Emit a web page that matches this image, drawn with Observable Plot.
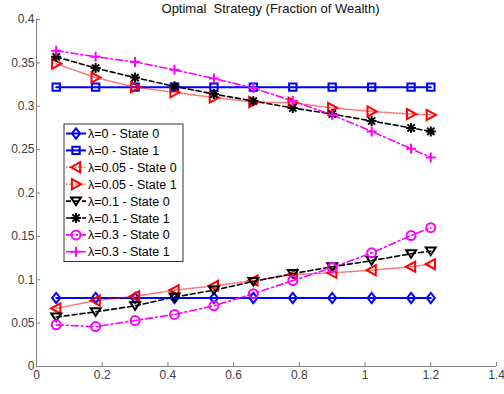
<!DOCTYPE html>
<html><head><meta charset="utf-8">
<script src="https://cdn.jsdelivr.net/npm/d3@7"></script>
<script src="https://cdn.jsdelivr.net/npm/@observablehq/plot@0.6"></script>
<style>
body{margin:0;background:#fff;}
#chart svg text{white-space:pre;}
</style></head><body><div id="chart"></div>
<script>
// ---- data ----
const title = "Optimal  Strategy (Fraction of Wealth)";
const xValues = [0.06, 0.18, 0.30, 0.42, 0.54, 0.66, 0.78, 0.90, 1.02, 1.14, 1.20];
const lam0_state0   = [0.079, 0.079, 0.079, 0.079, 0.079, 0.079, 0.079, 0.079, 0.079, 0.079, 0.079];
const lam0_state1   = [0.322, 0.322, 0.322, 0.322, 0.322, 0.322, 0.322, 0.322, 0.322, 0.322, 0.322];
const lam005_state0 = [0.067, 0.076, 0.081, 0.088, 0.093, 0.099, 0.106, 0.108, 0.111, 0.115, 0.118];
const lam005_state1 = [0.349, 0.333, 0.322, 0.316, 0.310, 0.305, 0.304, 0.298, 0.294, 0.291, 0.290];
const lam01_state0  = [0.057, 0.063, 0.070, 0.080, 0.088, 0.098, 0.107, 0.115, 0.122, 0.130, 0.133];
const lam01_state1  = [0.357, 0.344, 0.333, 0.323, 0.314, 0.306, 0.298, 0.291, 0.283, 0.275, 0.271];
const lam03_state0  = [0.048, 0.046, 0.053, 0.060, 0.070, 0.084, 0.099, 0.114, 0.131, 0.151, 0.160];
const lam03_state1  = [0.364, 0.357, 0.351, 0.342, 0.332, 0.321, 0.306, 0.290, 0.271, 0.251, 0.241];
const seriesNames = ["λ=0 - State 0", "λ=0 - State 1", "λ=0.05 - State 0", "λ=0.05 - State 1",
                     "λ=0.1 - State 0", "λ=0.1 - State 1", "λ=0.3 - State 0", "λ=0.3 - State 1"];
const seriesValues = [lam0_state0, lam0_state1, lam005_state0, lam005_state1,
                      lam01_state0, lam01_state1, lam03_state0, lam03_state1];
const xTicks = [0, 0.2, 0.4, 0.6, 0.8, 1, 1.2, 1.4];
const xTickLabels = ["0", "0.2", "0.4", "0.6", "0.8", "1", "1.2", "1.4"];
const yTicks = [0, 0.05, 0.1, 0.15, 0.2, 0.25, 0.3, 0.35, 0.4];
const yTickLabels = ["0", "0.05", "0.1", "0.15", "0.2", "0.25", "0.3", "0.35", "0.4"];

// ---- marker symbols (size -> r) ----
const sym = fn => ({draw(c, size){ const r = Math.sqrt(size / Math.PI); fn(c, r); }});
const symbols = {
  diamond: sym((c,r)=>{c.moveTo(0,-r*1.3);c.lineTo(r,0);c.lineTo(0,r*1.3);c.lineTo(-r,0);c.closePath();}),
  square: sym((c,r)=>{c.rect(-r,-r,2*r,2*r);}),
  triLeft: sym((c,r)=>{c.moveTo(-r*1.1,0);c.lineTo(r*0.9,-r*1.1);c.lineTo(r*0.9,r*1.1);c.closePath();}),
  triRight: sym((c,r)=>{c.moveTo(r*1.1,0);c.lineTo(-r*0.9,-r*1.1);c.lineTo(-r*0.9,r*1.1);c.closePath();}),
  triDown: sym((c,r)=>{c.moveTo(0,r*0.9);c.lineTo(-r*1.1,-r*0.8);c.lineTo(r*1.1,-r*0.8);c.closePath();}),
  star: sym((c,r)=>{c.moveTo(-r,0);c.lineTo(r,0);c.moveTo(0,-r);c.lineTo(0,r);
        const d=r*0.72;c.moveTo(-d,-d);c.lineTo(d,d);c.moveTo(-d,d);c.lineTo(d,-d);}),
  circle: sym((c,r)=>{c.moveTo(r,0);c.arc(0,0,r,0,2*Math.PI);}),
  plus: sym((c,r)=>{c.moveTo(-r,0);c.lineTo(r,0);c.moveTo(0,-r);c.lineTo(0,r);})
};
const styles = [
  {color:"#0000ff", dash:null, width:2, symbol:"diamond", r:4, lineOpacity:1},
  {color:"#0000ff", dash:null, width:2, symbol:"square", r:3.7, lineOpacity:1},
  {color:"#ff0000", dash:"1.5,1.5", width:1.6, symbol:"triLeft", r:4.6, lineOpacity:0.55},
  {color:"#ff0000", dash:"1.5,1.5", width:1.6, symbol:"triRight", r:4.6, lineOpacity:0.55},
  {color:"#000000", dash:"5,3", width:1.6, symbol:"triDown", r:4.5, lineOpacity:1},
  {color:"#000000", dash:"5,3", width:1.6, symbol:"star", r:5, lineOpacity:1},
  {color:"#ff00ff", dash:"7,3,2,3", width:1.6, symbol:"circle", r:4.5, lineOpacity:1},
  {color:"#ff00ff", dash:"7,3,2,3", width:1.6, symbol:"plus", r:5, lineOpacity:1}
];

const rows = seriesNames.map((name, i) => xValues.map((x, j) => ({x, y: seriesValues[i][j], name})));

const font = "'Liberation Sans', Arial, Helvetica, sans-serif";
const axisColor = "#808080";
const labelColor = "#404040";

const marks = [];
marks.push(Plot.ruleY([0], {stroke: axisColor, strokeWidth: 1}));
marks.push(Plot.ruleX([0], {stroke: axisColor, strokeWidth: 1}));
marks.push(Plot.axisX(xTicks, {tickSize: -4, tickPadding: 8, stroke: axisColor, fill: labelColor,
  tickFormat: (d, i) => xTickLabels[i], fontSize: 12, label: null}));
marks.push(Plot.axisY(yTicks, {tickSize: -4, tickPadding: 6, stroke: axisColor, fill: labelColor,
  tickFormat: (d, i) => yTickLabels[i], fontSize: 12, label: null}));
rows.forEach((data, i) => {
  const s = styles[i];
  marks.push(Plot.line(data, {x: "x", y: "y", stroke: s.color, strokeWidth: s.width,
    strokeDasharray: s.dash, strokeOpacity: s.lineOpacity, curve: "linear"}));
});
rows.forEach((data, i) => {
  const s = styles[i];
  marks.push(Plot.dot(data, {x: "x", y: "y", stroke: s.color, strokeWidth: 2, fill: "none",
    symbol: symbols[s.symbol], r: s.r}));
});
marks.push(Plot.text([title], {text: d => d, frameAnchor: "top", dy: -7, dx: 4, lineAnchor: "bottom",
  fontSize: 13, fill: "#111"}));

const plot = Plot.plot({
  width: 504, height: 394,
  marginTop: 19, marginRight: 8, marginBottom: 28, marginLeft: 36,
  style: {fontFamily: font, background: "#fff", overflow: "visible"},
  x: {domain: [0, 1.4], label: null},
  y: {domain: [0, 0.4], label: null},
  marks
});
document.getElementById("chart").appendChild(plot);

// ---- legend inside the axes, built from the same series config ----
const svg = d3.select(plot);
const lg = svg.append("g").attr("transform", "translate(64,124)")
  .style("font-family", font).attr("text-anchor", "start");
const rowH = 16.9;
lg.append("rect").attr("x", 0).attr("y", 0).attr("width", 119).attr("height", 137.5)
  .attr("fill", "#fff").attr("stroke", "#333").attr("stroke-width", 1);
seriesNames.forEach((name, i) => {
  const s = styles[i];
  const cy = 9.5 + i * rowH;
  const g = lg.append("g");
  g.append("line").attr("x1", 2).attr("x2", 22).attr("y1", cy).attr("y2", cy)
    .attr("stroke", s.color).attr("stroke-width", s.width).attr("stroke-opacity", s.lineOpacity)
    .attr("stroke-dasharray", s.dash);
  g.append("path").attr("transform", `translate(12,${cy})`)
    .attr("d", d3.symbol(symbols[s.symbol], Math.PI * s.r * s.r)())
    .attr("fill", "none").attr("stroke", s.color).attr("stroke-width", 2);
  g.append("text").attr("x", 24).attr("y", cy).attr("dy", "0.36em")
    .attr("font-size", 12.5).attr("fill", "#000").attr("text-anchor", "start").text(name);
});
</script></body></html>
